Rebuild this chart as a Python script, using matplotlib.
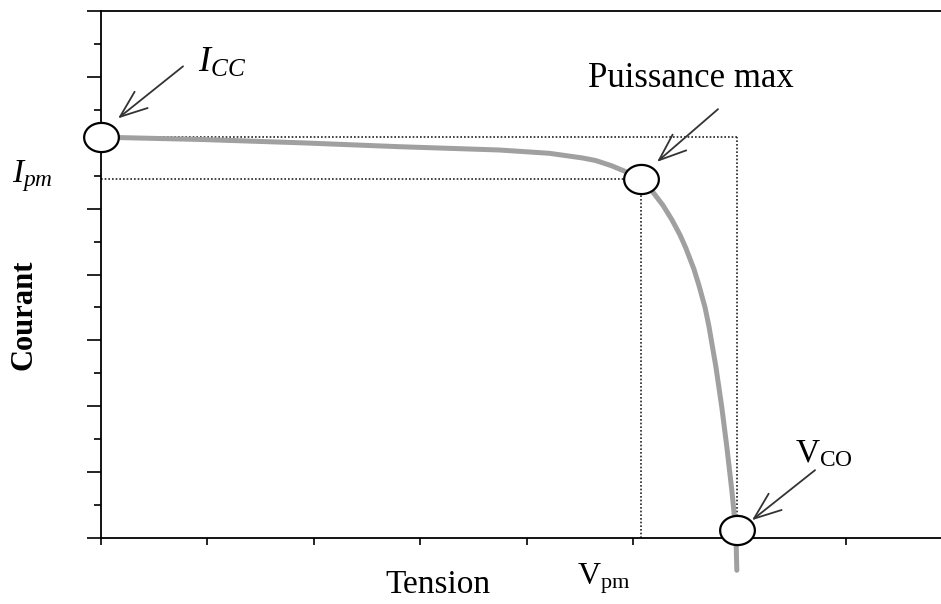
import numpy as np
import matplotlib
matplotlib.use('Agg')
import matplotlib.pyplot as plt
from matplotlib.path import Path

plt.rcParams['font.family'] = ['Liberation Serif', 'DejaVu Serif']
plt.rcParams['mathtext.fontset'] = 'custom'
plt.rcParams['mathtext.rm'] = 'Liberation Serif'
plt.rcParams['mathtext.it'] = 'Liberation Serif:italic'
plt.rcParams['mathtext.bf'] = 'Liberation Serif:bold'

# I-V curve (tension in tick units, courant in tick units)
tension = [0.0, 0.929, 1.867, 2.805, 3.743, 4.212, 4.522, 4.65, 4.80, 4.934, 5.019, 5.075,
           5.178, 5.282, 5.366, 5.442, 5.497, 5.573, 5.619, 5.677, 5.713, 5.779, 5.835,
           5.882, 5.929, 5.966, 5.976]
courant = [6.085, 6.05, 6.0, 5.94, 5.89, 5.84, 5.77, 5.73, 5.65, 5.56, 5.50, 5.45,
           5.27, 5.05, 4.83, 4.60, 4.40, 4.08, 3.84, 3.50, 3.22, 2.60, 1.98,
           1.38, 0.72, 0.12, -0.49]

i_cc = 6.085
i_pm = 5.45
v_pm = 5.075
v_co = 5.976

# points marked with open circles
mark_v = [0.0, v_pm, v_co]
mark_i = [i_cc, i_pm, 0.12]

W, H = 941, 604
fig = plt.figure(figsize=(W / 100, H / 100), dpi=100)
ax = fig.add_axes([101 / W, 1 - 538 / H, (W - 101) / W, (538 - 11) / H])
ax.set_xlim(0, 840 / 106.4)
ax.set_ylim(0, 8)

# dotted guide lines
dot = dict(color='#222222', lw=1.2, ls=(0, (1, 1.2)))
ax.plot([0, v_co], [i_cc, i_cc], **dot)
ax.plot([v_co, v_co], [0, i_cc], **dot)
ax.plot([0, v_pm], [i_pm, i_pm], **dot)
ax.plot([v_pm, v_pm], [0, i_pm], **dot)

# curve
ax.plot(tension, courant, color='#a0a0a0', lw=3.6, solid_capstyle='round',
        solid_joinstyle='round', clip_on=False, zorder=3)

# open ellipse markers
t = np.linspace(0, 2 * np.pi, 60)
ell = Path(np.column_stack([np.cos(t), 0.84 * np.sin(t)]), closed=True)
ax.plot(mark_v, mark_i, ls='none', marker=ell, ms=25, mfc='white', mec='black',
        mew=1.6, clip_on=False, zorder=5)

# arrows
arr = dict(arrowstyle='->,head_length=1.3,head_width=0.5', color='#333333', lw=1.3,
           mutation_scale=15, shrinkA=0, shrinkB=0)
ax.annotate('', xy=(0.160, 6.37), xytext=(0.771, 7.16), arrowprops=arr, annotation_clip=False)
ax.annotate('', xy=(5.226, 5.71), xytext=(5.799, 6.51), arrowprops=arr, annotation_clip=False)
ax.annotate('', xy=(6.118, 0.27), xytext=(6.711, 1.03), arrowprops=arr, annotation_clip=False)

# spines and ticks
for s in ['left', 'bottom', 'top']:
    ax.spines[s].set_linewidth(1.3)
ax.spines['right'].set_visible(False)
ax.set_xticks(np.arange(0, 8, 1))
ax.set_yticks(np.arange(0, 9, 1))
ax.set_yticks(np.arange(0.5, 8, 1), minor=True)
ax.tick_params(axis='y', which='major', direction='out', length=10, width=1.2, labelleft=False)
ax.tick_params(axis='y', which='minor', direction='out', length=5, width=1.2)
ax.tick_params(axis='x', which='major', direction='out', length=5, width=1.2, labelbottom=False)


def px(x, y):
    return x / W, 1 - y / H


fig.text(*px(198, 72), r'$I_{CC}$', fontsize=26, va='baseline', ha='left')
fig.text(*px(12, 182), r'$I_{pm}$', fontsize=24, va='baseline', ha='left')
fig.text(*px(588, 87), 'Puissance max', fontsize=25, va='baseline', ha='left')
fig.text(*px(795, 462), r'$\mathrm{V}_{\mathrm{CO}}$', fontsize=24, va='baseline', ha='left')
fig.text(*px(577, 585), r'$\mathrm{V}_{\mathrm{pm}}$', fontsize=23, va='baseline', ha='left')
fig.text(*px(385, 593), 'Tension', fontsize=24, va='baseline', ha='left')
fig.text(*px(24, 315), 'Courant', fontsize=22, fontweight='bold', rotation=90,
         va='center', ha='center')

fig.savefig('out.png', dpi=100)
